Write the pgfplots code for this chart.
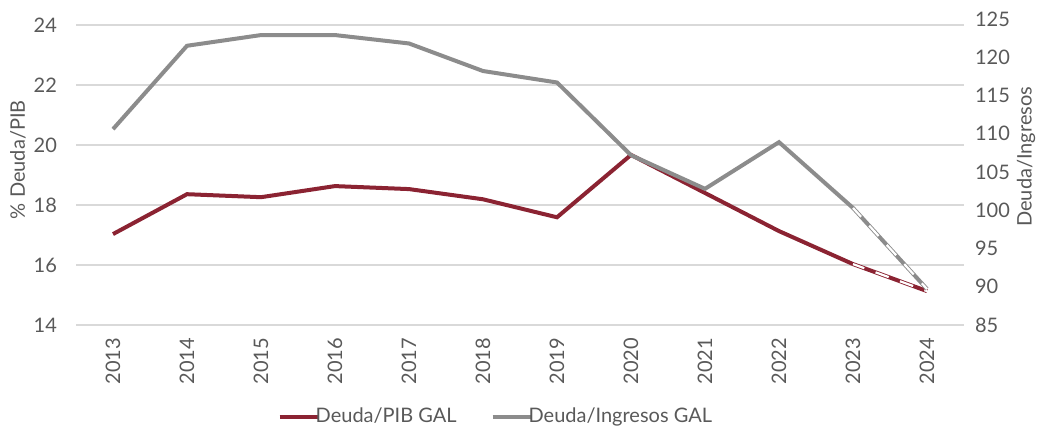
\documentclass[border=0pt]{standalone}
\usepackage{fontspec}
\setmainfont{Lato}
\usepackage{pgfplots}
\pgfplotsset{compat=1.18}
\definecolor{dred}{HTML}{8B2332}
\definecolor{lgray}{HTML}{8C8C8C}
\definecolor{txt}{HTML}{595959}
\definecolor{gridc}{HTML}{D9D9D9}
\pgfplotstableread{
x pib ing
0 17.03 110.6
1 18.36 121.5
2 18.26 122.9
3 18.63 122.9
4 18.53 121.8
5 18.19 118.2
6 17.59 116.7
7 19.67 107.2
8 18.40 102.8
9 17.13 108.9
10 16.03 100.3
11 15.13 89.7
}\datatable
\begin{document}
\begin{tikzpicture}
\path[use as bounding box] (0,0) rectangle (524pt,216pt);
\pgfplotsset{
  common/.style={
    at={(38pt,53.5pt)}, anchor=south west, scale only axis,
    width=444pt, height=153pt, xmin=-0.5, xmax=11.5,
    major tick length=0pt,
    tick label style={font=\fontsize{10}{12}\selectfont, text=txt},
    /pgf/number format/assume math mode=true,
  }
}
\begin{axis}[common,
  ymin=14, ymax=24.2, ytick={14,16,18,20,22,24},
  xtick={0,...,11},
  xticklabels={2013,2014,2015,2016,2017,2018,2019,2020,2021,2022,2023,2024},
  x tick label style={rotate=90, anchor=east, yshift=0pt, xshift=-3pt},
  yticklabel style={xshift=-6pt},
  ymajorgrids, grid style={line width=0.7pt, color=gridc},
  axis line style={draw=none},
  every axis y label/.style={at={(axis description cs:-0.0653,0.54)}, rotate=90, anchor=center, font=\fontsize{10}{12}\selectfont, text=txt},
  ylabel={\% Deuda/PIB},
]
\addplot[dred, line width=2pt] table[x=x, y=pib] {\datatable};
\addplot[white, line width=1.1pt, dash pattern=on 7pt off 6pt, dash phase=1pt] coordinates {(10,16.03) (11,15.13)};
\end{axis}
\begin{axis}[common,
  ymin=85, ymax=125, ytick={85,90,...,125},
  axis y line*=right, axis x line=none,
  axis line style={draw=none},
  yticklabel style={xshift=2pt},
  every axis y label/.style={at={(axis description cs:1.0698,0.55)}, rotate=90, anchor=center, font=\fontsize{10}{12}\selectfont, text=txt},
  ylabel={Deuda/Ingresos},
  legend style={at={(0.474,-0.30)}, anchor=center, draw=none, fill=none,
    legend columns=2, font=\fontsize{10}{12}\selectfont, text=txt,
    /tikz/every even column/.append style={column sep=15pt},
    inner sep=0pt, cells={anchor=west}},
  legend image code/.code={\draw[#1, line width=2pt] (0pt,0pt) -- (19pt,0pt);},
]
\addlegendimage{dred, line width=2pt}
\addlegendentry{\hspace{-4pt}Deuda/PIB GAL}
\addplot[lgray, line width=2pt] table[x=x, y=ing] {\datatable};
\addlegendentry{\hspace{-4pt}Deuda/Ingresos GAL}
\addplot[white, line width=1.1pt, dash pattern=on 7pt off 6pt, dash phase=1pt, forget plot] coordinates {(10,100.3) (11,89.7)};
\end{axis}
\end{tikzpicture}
\end{document}
